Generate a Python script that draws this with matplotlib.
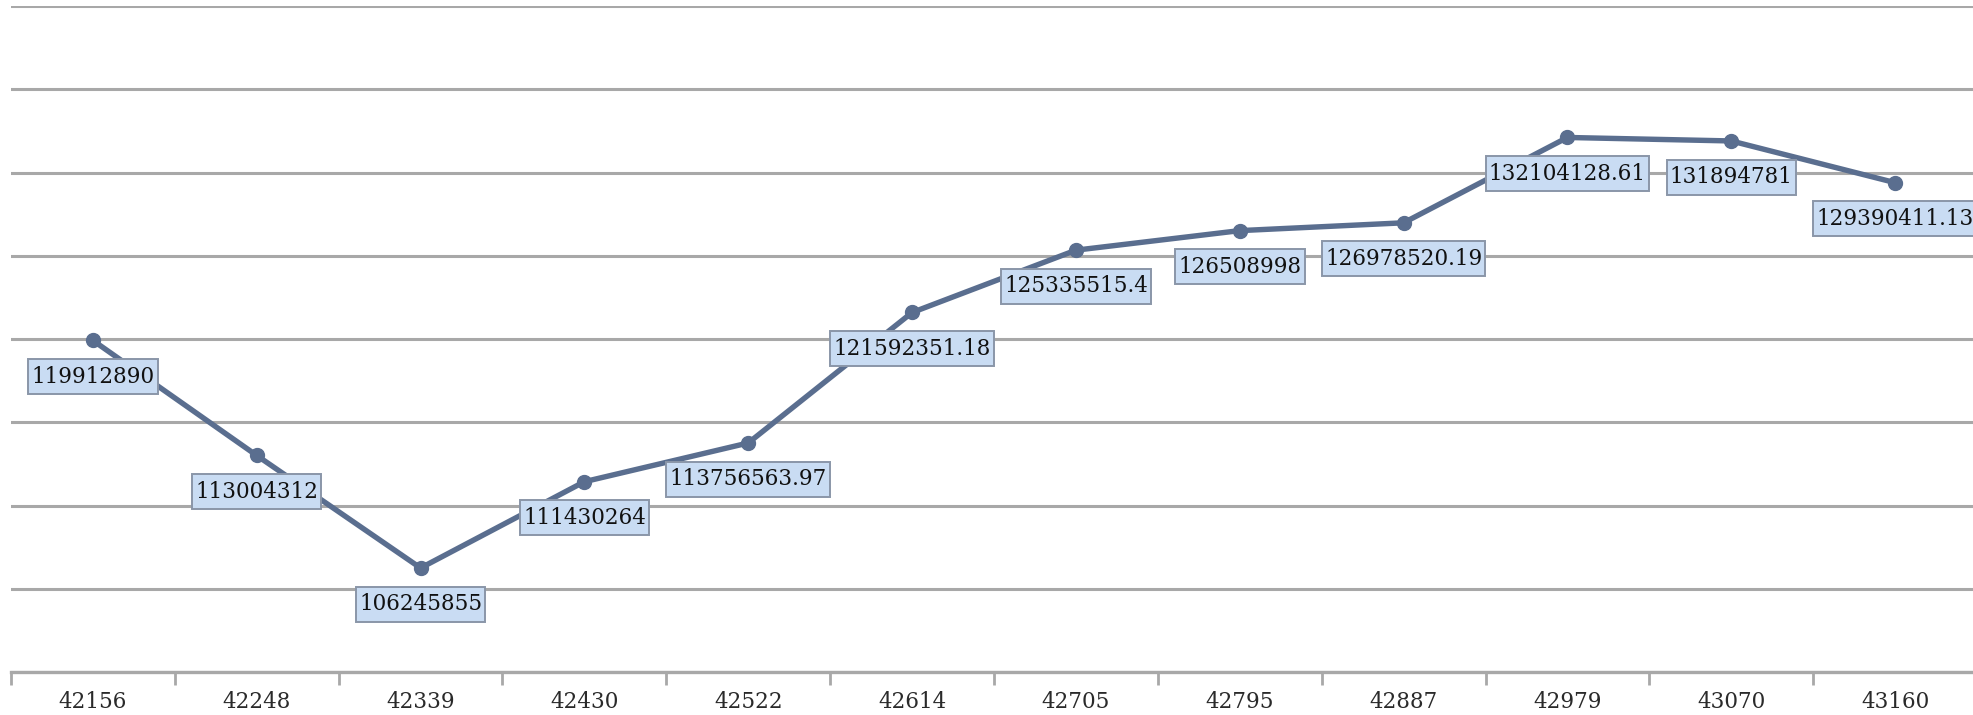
import matplotlib
matplotlib.use("Agg")
import matplotlib.pyplot as plt
from matplotlib.ticker import FixedLocator, MultipleLocator
from matplotlib.path import Path

categories = ["42156", "42248", "42339", "42430", "42522", "42614",
              "42705", "42795", "42887", "42979", "43070", "43160"]
values = [119912890, 113004312, 106245855, 111430264, 113756563.97, 121592351.18,
          125335515.4, 126508998, 126978520.19, 132104128.61, 131894781, 129390411.13]
labels = ["119912890", "113004312", "106245855", "111430264", "113756563.97", "121592351.18",
          "125335515.4", "126508998", "126978520.19", "132104128.61", "131894781", "129390411.13"]


def label_box(x0, y0, width, height, mutation_size):
    px = 0.15 * mutation_size
    py = 0.30 * mutation_size
    x0, y0 = x0 - px, y0 - py
    x1, y1 = x0 + width + 2 * px, y0 + height + 2 * py
    return Path([(x0, y0), (x1, y0), (x1, y1), (x0, y1), (x0, y0)], closed=True)


W, H = 1973, 715
fig = plt.figure(figsize=(W / 100, H / 100), dpi=100)
left_px, right_px, top_px, bot_px = 11, 1977, 6, 672
ax = fig.add_axes([left_px / W, 1 - bot_px / H, (right_px - left_px) / W, (bot_px - top_px) / H])

x = list(range(len(categories)))
line_color = "#5a6e8f"
ax.plot(x, values, color=line_color, lw=3.9, marker="o", ms=10, zorder=3,
        solid_capstyle="round")

for xi, v, lab in zip(x, values, labels):
    ax.annotate(lab, (xi, v), xytext=(0, -26), textcoords="offset points",
                ha="center", va="center", fontsize=15.5, family="DejaVu Serif",
                color="#111111", zorder=5,
                bbox=dict(boxstyle=label_box, fc="#c9dcf3", ec="#8a96a8", lw=1.4))

ax.set_xlim(-0.5, len(categories) - 0.5)
ax.set_ylim(100e6, 140e6)
ax.yaxis.set_major_locator(MultipleLocator(5e6))
ax.grid(axis="y", color="#a8a8a8", lw=2.2, zorder=0)
ax.set_axisbelow(True)
ax.tick_params(axis="y", left=False, labelleft=False)

ax.set_xticks(x)
ax.set_xticklabels(categories, fontsize=15.5, family="DejaVu Serif", color="#2a2a2a")
ax.tick_params(axis="x", which="major", length=0, pad=14)
ax.xaxis.set_minor_locator(FixedLocator([i - 0.5 for i in range(len(categories) + 1)]))
ax.tick_params(axis="x", which="minor", length=9, width=2, color="#a8a8a8")

for s in ["top", "right", "left"]:
    ax.spines[s].set_visible(False)
ax.spines["bottom"].set_color("#a8a8a8")
ax.spines["bottom"].set_linewidth(2.4)

fig.savefig("out.png", dpi=100)
